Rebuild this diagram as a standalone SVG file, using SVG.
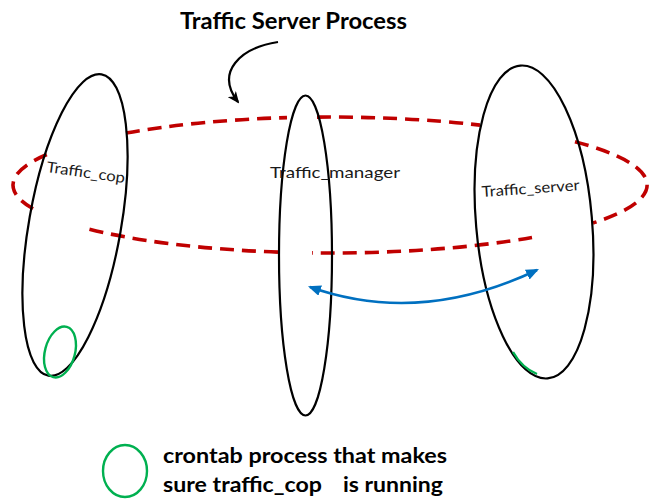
<svg xmlns="http://www.w3.org/2000/svg" width="651" height="499" viewBox="0 0 651 499">
<style>
.proc{fill:none;stroke:#000;stroke-width:2.2}
.ring{fill:none;stroke:#C00000;stroke-width:3.6;stroke-dasharray:14 8}
.lbl{font-family:Lato,"Open Sans","Liberation Sans",sans-serif;font-size:15px;fill:#1a1a1a}
.big{font-family:Lato,"Open Sans","Liberation Sans",sans-serif;font-weight:bold;fill:#000}
.green{fill:none;stroke:#00B050;stroke-width:2.4}
</style>
<defs>
<marker id="blk" viewBox="0 0 12 10" refX="10" refY="5" markerWidth="12" markerHeight="10" markerUnits="userSpaceOnUse" orient="auto">
<path d="M0,0 L12,5 L0,10 L3,5 z" fill="#000"/>
</marker>
<marker id="blu" viewBox="0 0 12 10" refX="10" refY="5" markerWidth="13" markerHeight="11" markerUnits="userSpaceOnUse" orient="auto-start-reverse">
<path d="M0,0 L12,5 L0,10 z" fill="#0070C0"/>
</marker>
</defs>
<rect width="651" height="499" fill="#fff"/>

<g id="title">
<text class="big" x="180" y="29" font-size="22" textLength="227" lengthAdjust="spacingAndGlyphs">Traffic Server Process</text>
</g>

<g id="process-ring">
<path class="ring" d="M126,133 A317,68 0 0 1 287,117.6"/>
<path class="ring" d="M317,117.1 A317,68 0 0 1 480,125.1"/>
<path class="ring" d="M575,141.8 A317,68 0 0 1 593,223"/>
<path class="ring" d="M532,237.4 A317,68 0 0 1 312,252.9"/>
<path class="ring" d="M278,252.1 A317,68 0 0 1 83,227.6"/>
<path class="ring" d="M33,208.8 A317,68 0 0 1 47,154.4"/>
</g>

<g id="traffic-cop">
<ellipse class="proc" cx="75" cy="225" rx="46" ry="153" transform="rotate(10 75 225)"/>
<ellipse class="green" cx="60" cy="352" rx="15" ry="26" transform="rotate(15 60 352)"/>
<text class="lbl" x="46" y="172" textLength="79" lengthAdjust="spacingAndGlyphs" transform="rotate(8 46 172)">Traffic_cop</text>
</g>

<g id="traffic-manager">
<ellipse class="proc" cx="305.5" cy="255.5" rx="26.5" ry="160"/>
<text class="lbl" x="270" y="178" textLength="130" lengthAdjust="spacingAndGlyphs">Traffic_manager</text>
</g>

<g id="traffic-server">
<ellipse class="proc" cx="534" cy="222" rx="58" ry="157" transform="rotate(-5 534 222)"/>
<path class="green" d="M513,352 Q522,368 537,374"/>
<text class="lbl" x="482" y="197" textLength="98" lengthAdjust="spacingAndGlyphs" transform="rotate(-4 482 197)">Traffic_server</text>
</g>

<g id="connectors">
<path d="M278,42 C240,48 215,72 238,102" fill="none" stroke="#000" stroke-width="2.2" marker-end="url(#blk)"/>
<path d="M310,287 Q420,326 537,270" fill="none" stroke="#0070C0" stroke-width="2.5" marker-start="url(#blu)" marker-end="url(#blu)"/>
</g>

<g id="legend">
<ellipse class="green" cx="125" cy="471" rx="22" ry="26"/>
<text class="big" x="163" y="463" font-size="21" textLength="284" lengthAdjust="spacingAndGlyphs">crontab process that makes</text>
<text class="big" x="163" y="492" font-size="21" textLength="159" lengthAdjust="spacingAndGlyphs">sure traffic_cop</text>
<text class="big" x="343" y="492" font-size="21" textLength="100" lengthAdjust="spacingAndGlyphs">is running</text>
</g>
</svg>
